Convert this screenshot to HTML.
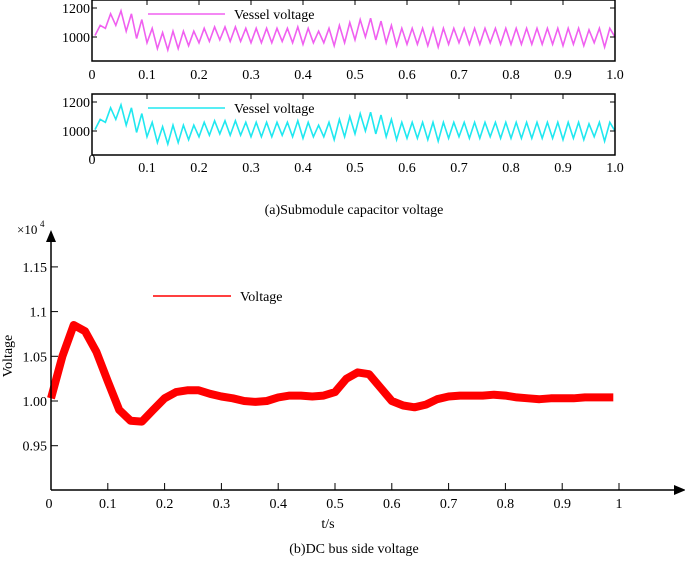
<!DOCTYPE html>
<html><head><meta charset="utf-8"><style>
body{margin:0;background:#fff;width:685px;height:563px;overflow:hidden}
svg text{font-family:"Liberation Serif","Times New Roman",serif}
</style></head><body>
<svg width="685" height="563">
<g id="p1"></g>
<g id="p2"></g>
<text x="354" y="214" font-size="14" text-anchor="middle">(a)Submodule capacitor voltage</text>
<g id="p3"></g>
<text x="354" y="553" font-size="14" text-anchor="middle">(b)DC bus side voltage</text>
</svg>
<script>
const topVals=[1010,1080,1060,1160,1080,1180,1040,1160,990,1120,960,1060,920,1030,910,1040,920,1040,940,1040,960,1060,970,1070,980,1070,970,1070,970,1060,960,1060,960,1060,960,1060,970,1060,960,1070,950,1060,960,1040,960,1060,940,1080,960,1100,980,1120,1000,1130,980,1110,960,1080,940,1060,950,1060,950,1060,940,1060,930,1060,950,1060,960,1060,950,1060,950,1060,960,1060,950,1060,950,1060,950,1060,950,1060,950,1060,950,1060,940,1060,950,1060,940,1050,960,1060,930,1060,1000];
const topTicks=["0","0.1","0.2","0.3","0.4","0.5","0.6","0.7","0.8","0.9","1.0"];
const dcT=[0,0.02,0.04,0.06,0.08,0.10,0.12,0.14,0.16,0.18,0.20,0.22,0.24,0.26,0.28,0.30,0.32,0.34,0.36,0.38,0.40,0.42,0.44,0.46,0.48,0.50,0.52,0.54,0.56,0.58,0.60,0.62,0.64,0.66,0.68,0.70,0.72,0.74,0.76,0.78,0.80,0.82,0.84,0.86,0.88,0.90,0.92,0.94,0.96,0.98,0.99];
const dcV=[1.003,1.05,1.085,1.078,1.055,1.022,0.99,0.978,0.977,0.99,1.003,1.01,1.012,1.012,1.008,1.005,1.003,1.0,0.999,1.0,1.004,1.006,1.006,1.005,1.006,1.01,1.025,1.032,1.03,1.015,1.0,0.995,0.993,0.996,1.002,1.005,1.006,1.006,1.006,1.007,1.006,1.004,1.003,1.002,1.003,1.003,1.003,1.004,1.004,1.004,1.004];
const yTicksB=[0.95,1.00,1.05,1.1,1.15];
const yLabB=["0.95","1.00","1.05","1.1","1.15"];
const xTicksB=[0,0.1,0.2,0.3,0.4,0.5,0.6,0.7,0.8,0.9,1];
const NS='http://www.w3.org/2000/svg';
function mk(p,t,a,txt){const e=document.createElementNS(NS,t);for(const k in a)e.setAttribute(k,a[k]);if(txt!==undefined)e.textContent=txt;p.appendChild(e);return e;}
function panel(id,y0,color,labY,zeroY){
 const g=document.getElementById(id);
 const xs=t=>95+t*520, ys=v=>y0+37-(v-1000)*0.145;
 const pts=topVals.map((v,i)=>xs(i*0.01).toFixed(1)+','+ys(v).toFixed(1)).join(' ');
 const l=mk(g,'polyline',{points:pts,fill:'none',stroke:color,'stroke-width':1.6});
 
 
 const r=mk(g,'rect',{x:92,y:y0,width:523,height:61,fill:'none',stroke:'#000','stroke-width':1.5});
 
 
 topTicks.forEach((s,i)=>{const x=xs(i*0.1);
  if(i>0&&i<10)mk(g,'line',{x1:x,x2:x,y1:y0,y2:y0+5,stroke:'#000'});
  const t=mk(g,'text',{x:i==0?92:x,y:i==0?zeroY:labY,'font-size':14,'text-anchor':'middle'},s);
  
  });
 [1000,1200].forEach(v=>{const y=ys(v);mk(g,'line',{x1:92,x2:97,y1:y,y2:y,stroke:'#000'});mk(g,'line',{x1:610,x2:615,y1:y,y2:y,stroke:'#000'});
  const t=mk(g,'text',{x:90,y:y+5,'font-size':14,'text-anchor':'end'},String(v));
  
  });
 mk(g,'line',{x1:148,x2:225,y1:y0+14,y2:y0+14,stroke:color,'stroke-width':1.5});
 const lt=mk(g,'text',{x:234,y:y0+19,'font-size':14},'Vessel voltage');
 
 
}
panel('p1',0,'#f060f0',79,79);
panel('p2',94,'#20e8f0',172,164);
(function(){
 const g=document.getElementById('p3');
 const xs=t=>51+t*568, ys=v=>401-(v-1)*894;
 const pts=dcT.map((t,i)=>xs(t).toFixed(1)+','+ys(dcV[i]).toFixed(1)).join(' ');
 const l=mk(g,'polyline',{points:pts,fill:'none',stroke:'#f00','stroke-width':8,'stroke-linejoin':'round'});
 
 
 mk(g,'line',{x1:51,x2:51,y1:240,y2:490,stroke:'#000','stroke-width':1.5});
 mk(g,'polygon',{points:'46,242 51,230 56,242',fill:'#000'});
 mk(g,'line',{x1:51,x2:676,y1:490,y2:490,stroke:'#000','stroke-width':1.5});
 mk(g,'polygon',{points:'674,485 686,490 674,495',fill:'#000'});
 yTicksB.forEach((v,i)=>{const y=ys(v);mk(g,'line',{x1:51,x2:58,y1:y,y2:y,stroke:'#000'});
  const t=mk(g,'text',{x:47,y:y+5,'font-size':14,'text-anchor':'end'},yLabB[i]);
  
  });
 xTicksB.forEach(v=>{const x=xs(v);if(v>0)mk(g,'line',{x1:x,x2:x,y1:483,y2:490,stroke:'#000'});
  const t=mk(g,'text',{x:v==0?49:x,y:508,'font-size':14,'text-anchor':'middle'},String(v));
  
  });
 const m=mk(g,'text',{x:17,y:234,'font-size':13},'×10');
 
 
 mk(g,'text',{x:40,y:227,'font-size':9},'4');
 mk(g,'line',{x1:153,x2:231,y1:296,y2:296,stroke:'#f00','stroke-width':1.5});
 const lt=mk(g,'text',{x:240,y:301,'font-size':14},'Voltage');
 
 
 const yt=mk(g,'text',{x:0,y:0,'font-size':14,'text-anchor':'middle',transform:'translate(12,356) rotate(-90)'},'Voltage');
 
 
 const xt=mk(g,'text',{x:328,y:528,'font-size':14,'text-anchor':'middle'},'t/s');
 
 
})();
</script>
</body></html>
